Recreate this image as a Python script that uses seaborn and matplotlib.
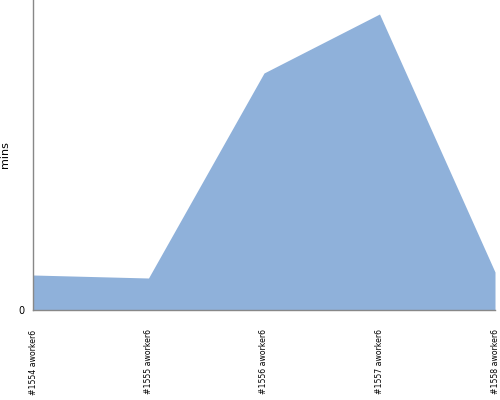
import numpy as np
import pandas as pd
import seaborn as sns
import matplotlib.pyplot as plt

builds = ["#1554 aworker6", "#1555 aworker6", "#1556 aworker6", "#1557 aworker6", "#1558 aworker6"]
mins = [3.5, 3.2, 23.7, 29.6, 3.8]

df = pd.DataFrame({"build": builds, "mins": mins})
df["pos"] = range(len(df))

sns.set_style("white")
fig = plt.figure(figsize=(5, 4), dpi=100)
ax = fig.add_axes([0.066, 0.225, 0.924, 0.775])

sns.lineplot(data=df, x="pos", y="mins", ax=ax, color="#8fb1da", linewidth=0)
ax.fill_between(df["pos"], df["mins"], color="#8fb1da", linewidth=0)

ax.set_xlim(0, len(df) - 1)
ax.set_ylim(0, 31)
ax.set_yticks([0])
ax.set_yticklabels(["0"], fontsize=7, color="black")
ax.set_xticks(df["pos"])
ax.set_xticklabels(df["build"], rotation=90, fontsize=5.6, color="black")
ax.tick_params(axis="x", length=0, pad=14)
ax.tick_params(axis="y", length=4, color="#888888", pad=2)
ax.set_xlabel("")
ax.set_ylabel("mins", fontsize=8, labelpad=6, color="black")

for s in ["top", "right"]:
    ax.spines[s].set_visible(False)
for s in ["left", "bottom"]:
    ax.spines[s].set_color("#888888")
    ax.spines[s].set_linewidth(1)

fig.savefig("out.png", dpi=100)
